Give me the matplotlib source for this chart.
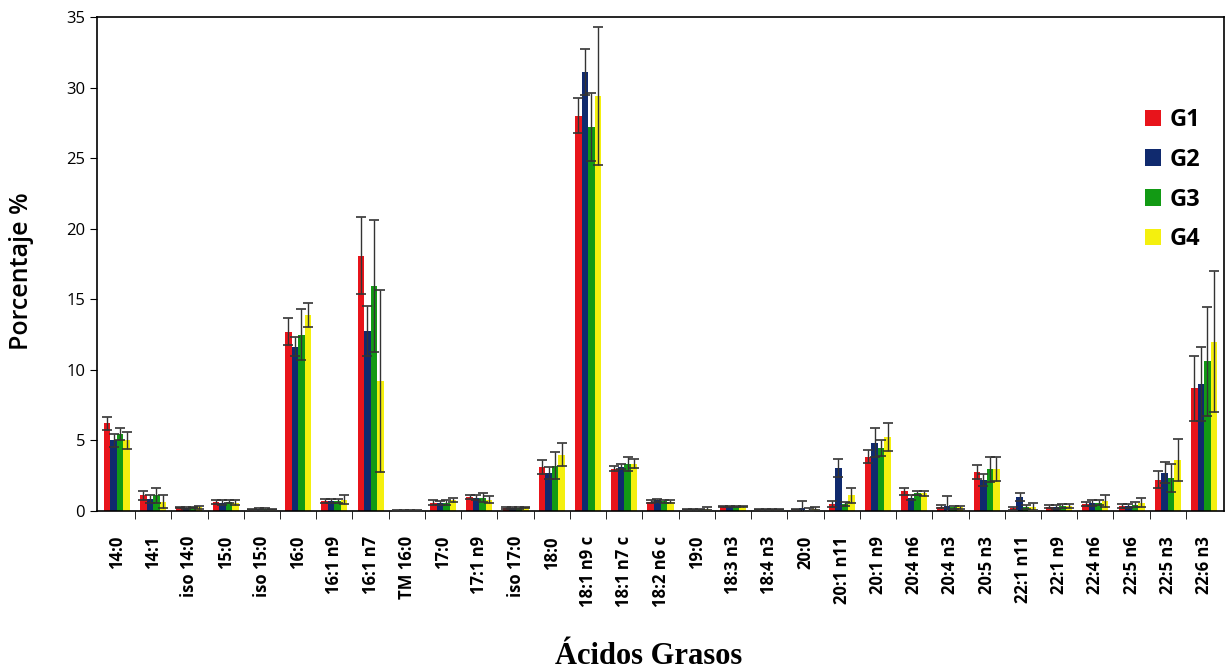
import numpy as np
import matplotlib
matplotlib.use("Agg")
import matplotlib.pyplot as plt
from matplotlib.ticker import FixedLocator, NullFormatter

acidos = ["14:0", "14:1", "iso 14:0", "15:0", "iso 15:0", "16:0", "16:1 n9", "16:1 n7",
          "TM 16:0", "17:0", "17:1 n9", "iso 17:0", "18:0", "18:1 n9 c", "18:1 n7 c",
          "18:2 n6 c", "19:0", "18:3 n3", "18:4 n3", "20:0", "20:1 n11", "20:1 n9",
          "20:4 n6", "20:4 n3", "20:5 n3", "22:1 n11", "22:1 n9", "22:4 n6", "22:5 n6",
          "22:5 n3", "22:6 n3"]

g1 = [6.2, 1.1, 0.25, 0.65, 0.1, 12.7, 0.7, 18.1, 0.05, 0.6, 1.0, 0.2, 3.1, 28.0, 3.0,
      0.65, 0.1, 0.3, 0.1, 0.1, 0.5, 3.85, 1.4, 0.3, 2.75, 0.2, 0.3, 0.5, 0.35, 2.2, 8.7]
g2 = [5.0, 0.85, 0.2, 0.6, 0.15, 11.65, 0.7, 12.75, 0.05, 0.55, 0.95, 0.2, 2.7, 31.1, 3.15,
      0.75, 0.1, 0.3, 0.1, 0.2, 3.05, 4.85, 0.95, 0.35, 2.2, 1.0, 0.3, 0.55, 0.35, 2.7, 9.0]
g3 = [5.45, 1.1, 0.25, 0.65, 0.15, 12.5, 0.7, 15.95, 0.05, 0.6, 0.95, 0.2, 3.2, 27.2, 3.35,
      0.7, 0.1, 0.3, 0.1, 0.1, 0.5, 4.45, 1.3, 0.25, 2.95, 0.3, 0.35, 0.6, 0.45, 2.35, 10.6]
g4 = [5.0, 0.65, 0.25, 0.6, 0.1, 13.9, 0.8, 9.2, 0.05, 0.8, 0.8, 0.25, 4.0, 29.4, 3.35,
      0.65, 0.15, 0.3, 0.1, 0.15, 1.1, 5.25, 1.25, 0.25, 3.0, 0.3, 0.35, 0.7, 0.6, 3.6, 12.0]

e1 = [0.45, 0.3, 0.05, 0.15, 0.05, 0.95, 0.15, 2.75, 0.02, 0.15, 0.15, 0.05, 0.5, 1.25, 0.2,
      0.1, 0.05, 0.05, 0.03, 0.05, 0.2, 0.45, 0.25, 0.1, 0.5, 0.1, 0.1, 0.15, 0.15, 0.6, 2.3]
e2 = [0.45, 0.3, 0.05, 0.15, 0.05, 0.65, 0.15, 1.8, 0.02, 0.15, 0.15, 0.05, 0.45, 1.6, 0.2,
      0.1, 0.05, 0.05, 0.03, 0.5, 0.65, 1.05, 0.2, 0.7, 0.4, 0.3, 0.15, 0.2, 0.15, 0.75, 2.65]
e3 = [0.45, 0.5, 0.05, 0.1, 0.05, 1.8, 0.15, 4.65, 0.02, 0.15, 0.3, 0.05, 0.95, 2.4, 0.5,
      0.1, 0.05, 0.05, 0.03, 0.1, 0.15, 0.55, 0.15, 0.1, 0.9, 0.15, 0.15, 0.2, 0.2, 1.0, 3.85]
e4 = [0.6, 0.45, 0.1, 0.15, 0.05, 0.85, 0.3, 6.45, 0.02, 0.15, 0.25, 0.05, 0.8, 4.9, 0.3,
      0.1, 0.1, 0.05, 0.03, 0.1, 0.55, 1.0, 0.2, 0.1, 0.85, 0.25, 0.15, 0.4, 0.3, 1.5, 5.0]

grupos = ["G1", "G2", "G3", "G4"]
valores = [g1, g2, g3, g4]
errores = [e1, e2, e3, e4]
colores = ["#E8141B", "#102A6E", "#129A14", "#F4F00E"]

fig = plt.figure(figsize=(12.25, 6.71), dpi=100)
ax = fig.add_axes([97 / 1225, 1 - 511 / 671, 1127 / 1225, 494 / 671])

x = np.arange(len(acidos))
ancho = 0.18
for i, (grupo, vals, errs, col) in enumerate(zip(grupos, valores, errores, colores)):
    pos = x + (i - 1.5) * ancho
    ax.bar(pos, vals, ancho, color=col, label=grupo, zorder=2)
    ax.errorbar(pos, vals, yerr=errs, fmt="none", ecolor="#333333",
                elinewidth=1.0, capsize=3.5, capthick=1.2, zorder=3)

ax.set_xlim(-0.55, len(acidos) - 0.45)
ax.set_ylim(0, 35)
ax.set_yticks(range(0, 36, 5))
ax.tick_params(axis="y", labelsize=12, direction="out", length=5)
for t in ax.get_yticklabels():
    t.set_family("Open Sans")

ax.set_xticks(x)
ax.set_xticklabels(acidos, rotation=90, fontsize=12, fontweight="bold", family="Open Sans")
ax.tick_params(axis="x", which="major", length=0, pad=18)
ax.xaxis.set_minor_locator(FixedLocator(x[:-1] + 0.5))
ax.xaxis.set_minor_formatter(NullFormatter())
ax.tick_params(axis="x", which="minor", length=6, direction="out")

for s in ax.spines.values():
    s.set_linewidth(1.2)

fig.text(22 / 1225, 1 - 271 / 671, "Porcentaje %", rotation=90, ha="center", va="center",
         fontsize=18, fontweight="semibold", family="Open Sans")
fig.text(649 / 1225, 1 - 657 / 671, "Ácidos Grasos", ha="center", va="center",
         fontsize=22, fontweight="bold", family="Liberation Serif")

leg = ax.legend(loc="upper left", bbox_to_anchor=(0.911, 0.858), frameon=False,
                prop={"family": "Open Sans", "weight": "bold", "size": 17},
                handlelength=0.7, handleheight=0.7, handletextpad=0.35, labelspacing=0.66)

plt.savefig("out.png", dpi=100)
plt.close()
